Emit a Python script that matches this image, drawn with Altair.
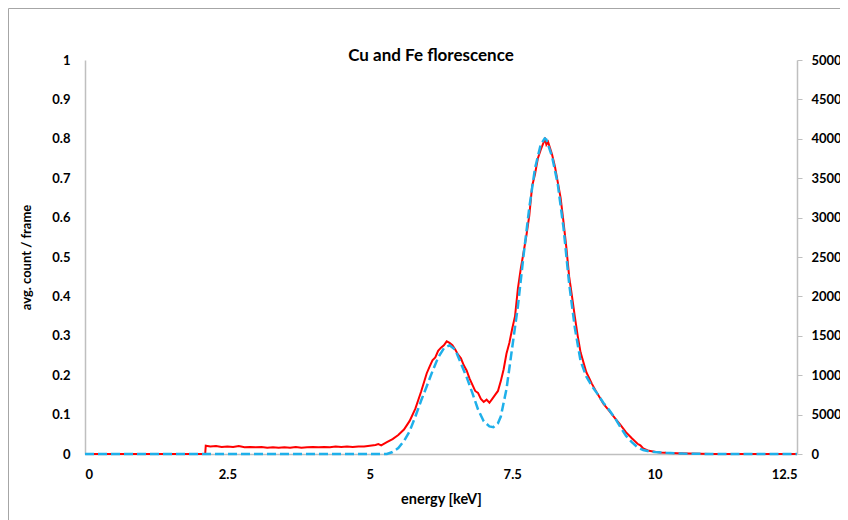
import altair as alt
import pandas as pd

# measured spectrum (avg. count / frame)
red_energy = [0, 2.1, 2.11, 2.12, 2.2, 2.3, 2.4, 2.5, 2.6, 2.7, 2.8, 2.9, 3.0, 3.1, 3.2, 3.3, 3.4, 3.5,
              3.6, 3.7, 3.8, 3.9, 4.0, 4.1, 4.2, 4.3, 4.4, 4.5, 4.6, 4.7, 4.8, 4.9, 5.0, 5.1, 5.15, 5.2,
              5.3, 5.4, 5.5, 5.6, 5.7, 5.8, 5.9, 6.0, 6.05, 6.1, 6.15, 6.2, 6.25, 6.3, 6.35, 6.4, 6.45,
              6.5, 6.55, 6.6, 6.65, 6.7, 6.75, 6.8, 6.85, 6.9, 6.95, 7.0, 7.05, 7.1, 7.15, 7.2, 7.25,
              7.3, 7.35, 7.4, 7.45, 7.5, 7.55, 7.6, 7.65, 7.7, 7.75, 7.8, 7.85, 7.9, 7.95, 8.0, 8.05,
              8.08, 8.1, 8.13, 8.2, 8.25, 8.3, 8.35, 8.4, 8.45, 8.5, 8.55, 8.6, 8.65, 8.7, 8.8, 8.9,
              9.0, 9.05, 9.1, 9.2, 9.3, 9.4, 9.5, 9.6, 9.7, 9.75, 9.8, 9.9, 10.0, 10.1, 10.2, 10.4,
              10.6, 11.0, 12.5]
red_count = [0, 0, 0.0, 0.021, 0.019, 0.020, 0.018, 0.019, 0.018, 0.020, 0.017, 0.018, 0.017, 0.018,
             0.016, 0.017, 0.016, 0.017, 0.016, 0.018, 0.016, 0.017, 0.018, 0.017, 0.018, 0.017, 0.019,
             0.018, 0.019, 0.018, 0.019, 0.019, 0.021, 0.023, 0.025, 0.022, 0.030, 0.038, 0.048, 0.062,
             0.084, 0.115, 0.158, 0.205, 0.222, 0.238, 0.245, 0.262, 0.270, 0.276, 0.286, 0.282, 0.276,
             0.265, 0.252, 0.243, 0.225, 0.212, 0.192, 0.176, 0.160, 0.155, 0.140, 0.132, 0.138, 0.130,
             0.140, 0.150, 0.160, 0.185, 0.215, 0.255, 0.282, 0.318, 0.350, 0.420, 0.470, 0.512, 0.555,
             0.605, 0.680, 0.710, 0.750, 0.772, 0.790, 0.798, 0.785, 0.792, 0.760, 0.730, 0.690, 0.650,
             0.590, 0.525, 0.450, 0.400, 0.348, 0.300, 0.258, 0.208, 0.178, 0.152, 0.140, 0.128, 0.110,
             0.092, 0.074, 0.055, 0.040, 0.026, 0.022, 0.014, 0.008, 0.006, 0.004, 0.003, 0.002, 0.001,
             0, 0]

# fitted Cu + Fe peaks (counts, right axis)
fit_energy = [0, 5.3, 5.4, 5.5, 5.6, 5.7, 5.8, 5.9, 6.0, 6.1, 6.2, 6.3, 6.4, 6.5, 6.6, 6.7, 6.8, 6.9,
              7.0, 7.1, 7.17, 7.25, 7.3, 7.4, 7.5, 7.6, 7.7, 7.8, 7.9, 8.0, 8.07, 8.1, 8.2, 8.3, 8.4,
              8.5, 8.6, 8.7, 8.8, 8.9, 9.0, 9.1, 9.2, 9.3, 9.4, 9.5, 9.6, 9.7, 9.8, 9.9, 10.0, 10.2,
              10.5, 11.0, 12.5]
fit_counts = [0, 0, 250, 750, 1650, 2900, 4750, 6750, 8600, 10500, 12250, 13400, 13800, 13250, 11500,
              9750, 7750, 5650, 4150, 3500, 3400, 3900, 4750, 8250, 13500, 18750, 25250, 31250, 36250,
              39250, 40050, 39900, 37750, 34250, 28750, 21600, 16000, 11800, 9850, 8600, 7600, 6500,
              5600, 4600, 3400, 2300, 1500, 850, 500, 350, 250, 150, 50, 0, 0]

title_text = ["Cu and Fe florescence"]

red_df = pd.DataFrame({"energy": red_energy, "count": red_count})
fit_df = pd.DataFrame({"energy": fit_energy, "fit": fit_counts})
title_df = pd.DataFrame({"t": title_text})

FONT = "Lato"
GRAY = "#bfbfbf"

x_enc = alt.X(
    "energy:Q",
    scale=alt.Scale(domain=[0, 12.5], nice=False, zero=False),
    axis=alt.Axis(
        title="energy [keV]", values=[0, 2.5, 5, 7.5, 10, 12.5], format="~g",
        grid=False, ticks=False, domainColor=GRAY, domainWidth=1.5,
        labelPadding=14, titlePadding=11, titleFontSize=14.5,
    ),
)

red = alt.Chart(red_df).mark_line(color="#ff0000", strokeWidth=2).encode(
    x=x_enc,
    y=alt.Y(
        "count:Q",
        scale=alt.Scale(domain=[0, 1], nice=False),
        axis=alt.Axis(
            orient="left", title="avg. count / frame",
            values=[0, 0.1, 0.2, 0.3, 0.4, 0.5, 0.6, 0.7, 0.8, 0.9, 1], format=".1~f",
            grid=False, ticks=False, domainColor=GRAY, domainWidth=1.5,
            labelPadding=15, titlePadding=18,
        ),
    ),
)

blue = alt.Chart(fit_df).mark_line(color="#1fb0ea", strokeWidth=2.5, strokeDash=[9, 4]).encode(
    x=alt.X("energy:Q"),
    y=alt.Y(
        "fit:Q",
        scale=alt.Scale(domain=[0, 50000], nice=False),
        axis=alt.Axis(
            orient="right", title=None,
            values=list(range(0, 50001, 5000)), format="d",
            grid=False, ticks=True, tickSize=5, tickColor=GRAY, domainColor=GRAY,
            domainWidth=1.5, labelPadding=9,
        ),
    ),
)

title = alt.Chart(title_df).mark_text(
    font=FONT, fontSize=17, fontWeight="bold", color="black", baseline="middle", align="center"
).encode(text="t:N", x=alt.value(346), y=alt.value(-4))

border = alt.Chart(title_df).mark_rect(
    fillOpacity=0, stroke="#a6a6a6", strokeWidth=1
).encode(x=alt.value(-76.5), x2=alt.value(800), y=alt.value(-51.5), y2=alt.value(520))

chart = (
    alt.layer(border, red, blue, title)
    .resolve_scale(y="independent")
    .properties(
        width=712, height=394,
        autosize=alt.AutoSizeParams(type="none"),
        padding={"left": 77, "top": 52, "right": 43, "bottom": 66},
    )
    .configure_view(stroke=None)
    .configure_axis(
        labelFont=FONT, labelFontSize=13, labelFontWeight="bold", labelColor="black",
        titleFont=FONT, titleFontSize=13, titleFontWeight="bold", titleColor="black",
    )
)

chart.save("out.html", embed_options={"renderer": "svg", "actions": False})
